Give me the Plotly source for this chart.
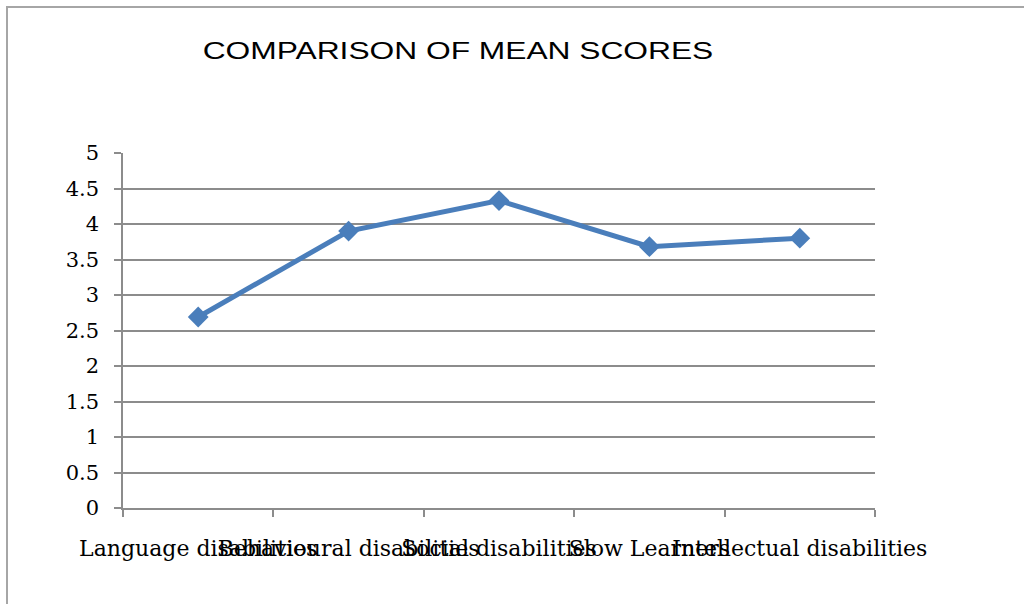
import plotly.graph_objects as go

categories = ["Language disabilities", "Behavioural disabilities", "Social disabilities",
              "Slow Learners", "Intellectual disabilities"]
mean_scores = [2.69, 3.90, 4.33, 3.68, 3.80]
y_ticks = [0, 0.5, 1, 1.5, 2, 2.5, 3, 3.5, 4, 4.5, 5]
y_tick_labels = ["0", "0.5", "1", "1.5", "2", "2.5", "3", "3.5", "4", "4.5", "5"]

W, H = 1024, 604
L, R, T, B = 123, 875, 153, 508
pw, ph = R - L, B - T

def px_x(p):
    return (p - L) / pw

def px_y(p):
    return (B - p) / ph

fig = go.Figure()
fig.add_trace(go.Scatter(
    x=categories, y=mean_scores, mode="lines+markers",
    line=dict(color="#4A7EBB", width=5),
    marker=dict(symbol="diamond", size=16, color="#4A7EBB"),
    showlegend=False, cliponaxis=False,
))

grid_col = "#8C8C8C"
serif = "DejaVu Serif"
fig.update_layout(
    width=W, height=H,
    margin=dict(l=L, r=W - R, t=T, b=H - B, autoexpand=False),
    paper_bgcolor="white", plot_bgcolor="white",
    title=dict(text="COMPARISON OF MEAN SCORES", xref="container", yref="container",
               x=458 / W, xanchor="center", y=1 - 51 / H, yanchor="middle",
               font=dict(family="Liberation Sans", size=23, color="black")),
    xaxis=dict(type="category", range=[-0.5, len(categories) - 0.5],
               tickson="boundaries", ticks="outside", ticklen=7,
               tickcolor=grid_col, tickwidth=1.5, showline=True, linecolor=grid_col,
               linewidth=1.5, showgrid=False, ticklabelstandoff=20, tickangle=0,
               automargin=False,
               tickfont=dict(family=serif, size=22, color="black")),
    yaxis=dict(range=[0, 5], tickvals=y_ticks, ticktext=y_tick_labels, ticks="outside",
               ticklen=7, tickcolor=grid_col, tickwidth=1.5, showline=True,
               linecolor=grid_col, linewidth=1.5, showgrid=True, gridcolor=grid_col,
               gridwidth=1.5, zeroline=False, ticklabelstandoff=11, automargin=False,
               tickfont=dict(family=serif, size=21, color="black")),
    shapes=[dict(type="rect", xref="paper", yref="paper",
                 x0=px_x(7), x1=px_x(1040), y0=px_y(620), y1=px_y(7),
                 line=dict(color="#A6A6A6", width=2), fillcolor="rgba(0,0,0,0)",
                 layer="below")],
)

post = """
document.body.style.margin = '0';
var t = document.querySelector('.gtitle');
if (t) {
  t.style.transformBox = 'fill-box';
  t.style.transformOrigin = 'center';
  t.style.transform = 'scaleX(1.38)';
}
"""

fig.write_html("out.html", post_script=post, config={"displayModeBar": False})
